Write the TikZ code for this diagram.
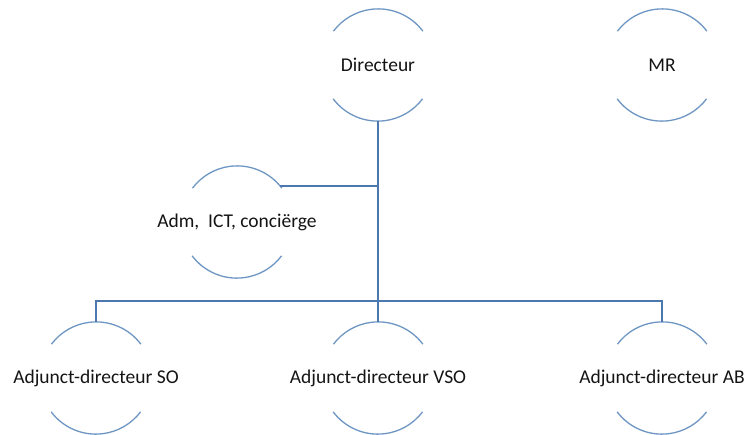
\documentclass[tikz,border=0pt]{standalone}
\usepackage{fontspec}
\setmainfont{Carlito}
\definecolor{arcblue}{RGB}{110,150,195}
\definecolor{lineblue}{RGB}{75,120,175}
\definecolor{txtcol}{RGB}{20,20,20}
\begin{document}
\begin{tikzpicture}[x=1pt,y=1pt,
  ring/.style={circle,minimum size=112pt,inner sep=0pt},
  txt/.style={font=\fontsize{19.5}{21}\selectfont,text=txtcol,inner sep=0pt},
  arcline/.style={draw=arcblue,line width=1.3pt},
  conn/.style={draw=lineblue,line width=1.4pt}]
\useasboundingbox (0,0) rectangle (744,-434);
\node[ring] (dir) at (378,-65) {};
\node[ring] (mr)  at (662,-65) {};
\node[ring] (adm) at (237,-222) {};
\node[ring] (so)  at (96,-378) {};
\node[ring] (vso) at (378,-378) {};
\node[ring] (ab)  at (662,-378) {};
\foreach \n in {dir,mr,adm,so,vso,ab}{
  \draw[arcline] (\n.37) arc[start angle=37,end angle=143,radius=56pt];
  \draw[arcline] (\n.217) arc[start angle=217,end angle=323,radius=56pt];
}
\node[txt] (dirT) at (dir) {Directeur};
\node[txt] (mrT) at (mr) {MR};
\node[txt] (admT) at (adm) {Adm,\ \ ICT, conciërge};
\node[txt] (soT) at (so) {Adjunct-directeur SO};
\node[txt] (vsoT) at (vso) {Adjunct-directeur VSO};
\node[txt] (abT) at (ab) {Adjunct-directeur AB};
\coordinate (bus) at (378,-301);
\draw[conn] (dir.south) -- (vso.north);
\draw[conn] (adm.40) -- (adm.40 -| dir.south);
\draw[conn] (so.north) -- (so.north |- bus) -- (ab.north |- bus) -- (ab.north);
\end{tikzpicture}
\end{document}
